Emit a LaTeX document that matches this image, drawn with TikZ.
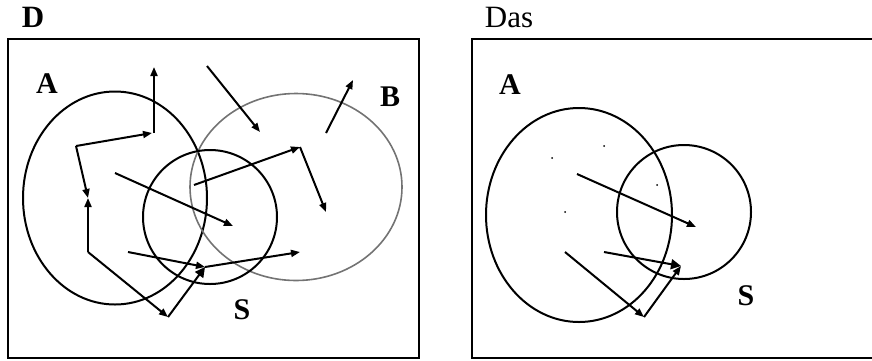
\documentclass[tikz,border=0pt]{standalone}
\usepackage{fontspec}
\setmainfont{Liberation Serif}
\usetikzlibrary{arrows.meta,shapes.geometric}
\begin{document}
\begin{tikzpicture}[x=1pt,y=-1pt,
  frame/.style={draw=black,line width=2.2pt},
  setc/.style={draw=black,line width=2pt,ellipse,inner sep=0pt},
  setg/.style={draw=black!55,line width=1.6pt,ellipse,inner sep=0pt},
  lbl/.style={font=\fontsize{30}{32}\selectfont\bfseries,inner sep=0pt},
  ttl/.style={font=\fontsize{31}{33}\selectfont,inner sep=0pt},
  arr/.style={line width=2pt,-{Triangle[length=9pt,width=7pt]}},
  bigarr/.style={line width=2pt,-{Triangle[length=10pt,width=10pt]}},
  dot/.style={circle,fill=black,inner sep=0pt,minimum size=2pt}]
\useasboundingbox (0,0) rectangle (872,360);
% left panel
\node[frame,rectangle,minimum width=411pt,minimum height=319pt,inner sep=0pt] (FL) at (213.5,198.5) {};
\node[ttl,font=\fontsize{31}{33}\selectfont\bfseries] (D) at (33,17) {D};
\node[setc,minimum width=184pt,minimum height=213pt] (CA) at (115,198) {};
\node[setg,minimum width=212pt,minimum height=187pt] (CB) at (296,187) {};
\node[setc,minimum width=134pt,minimum height=134pt] (CS) at (210,217) {};
\node[lbl] (LA) at (47,84) {A};
\node[lbl] (LB) at (390,97) {B};
\node[lbl] (LS) at (242,310) {S};
\coordinate (p1) at (76,146);
\coordinate (p2) at (152,133);
\coordinate (p3) at (154,133);
\coordinate (p4) at (154,67);
\coordinate (p5) at (88,198);
\coordinate (p6) at (88,252);
\coordinate (p7) at (168,317);
\coordinate (p8) at (205,267);
\coordinate (p9) at (128,252);
\coordinate (p10) at (300,252);
\coordinate (p11) at (115,173);
\coordinate (p12) at (233,226);
\coordinate (p13) at (207,66);
\coordinate (p14) at (260,132);
\coordinate (p15) at (326,133);
\coordinate (p16) at (353,80);
\coordinate (p17) at (194,185);
\coordinate (p18) at (300,147);
\coordinate (p19) at (326,212);
\draw[arr] (p1) -- (p2);
\draw[arr] (p3) -- (p4);
\draw[arr] (p1) -- (p5);
\draw[arr] (p6) -- (p5);
\draw[arr] (p6) -- (p7);
\draw[bigarr] (p7) -- (p8);
\draw[arr] (p9) -- (p8);
\draw[arr] (p8) -- (p10);
\draw[arr] (p11) -- (p12);
\draw[arr] (p13) -- (p14);
\draw[arr] (p15) -- (p16);
\draw[arr] (p17) -- (p18);
\draw[arr] (p18) -- (p19);
% right panel
\draw[frame] (472,39) rectangle (880,358);
\node[ttl] (Das) at (509,17) {Das};
\node[setc,minimum width=186pt,minimum height=214pt] (RA) at (579,215) {};
\node[setc,minimum width=134pt,minimum height=134pt] (RS) at (684,212) {};
\node[lbl] (RLA) at (510,85) {A};
\node[lbl] (RLS) at (746,296) {S};
\node[dot] (d1) at (552,158) {};
\node[dot] (d2) at (604,146) {};
\node[dot] (d3) at (657,185) {};
\node[dot] (d4) at (565,212) {};
\coordinate (q1) at (577,174);
\coordinate (q2) at (696,227);
\coordinate (q3) at (604,252);
\coordinate (q4) at (681,266);
\coordinate (q5) at (565,252);
\coordinate (q6) at (644,317);
\draw[arr] (q1) -- (q2);
\draw[bigarr] (q3) -- (q4);
\draw[arr] (q5) -- (q6);
\draw[arr] (q6) -- (q4);
\end{tikzpicture}
\end{document}
